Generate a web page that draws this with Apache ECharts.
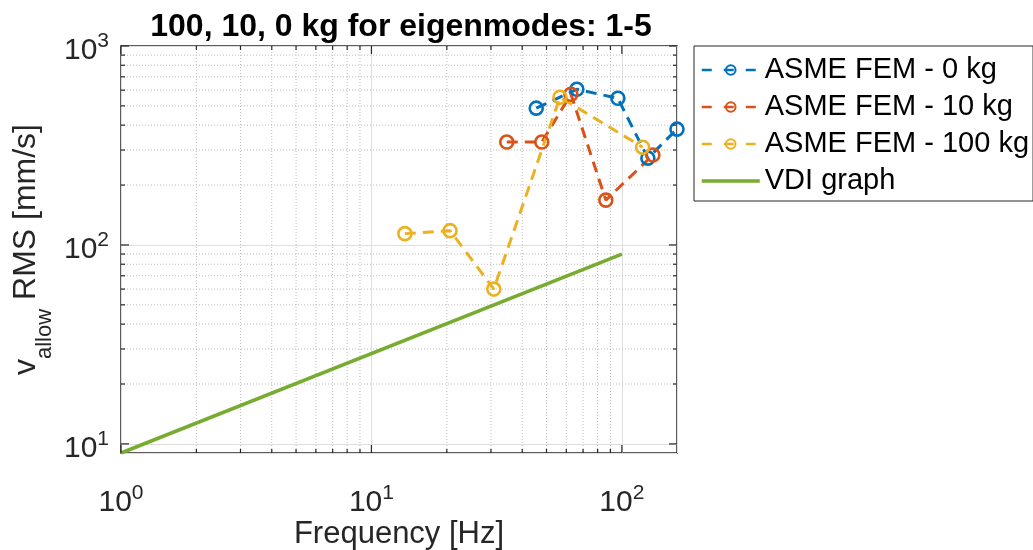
<!DOCTYPE html>
<html>
<head>
<meta charset="utf-8">
<script src="https://cdn.jsdelivr.net/npm/echarts@6/dist/echarts.min.js"></script>
<style>
  html, body { margin: 0; padding: 0; background: #fff; }
  #chart { width: 1033px; height: 550px; }
</style>
</head>
<body>
<div id="chart"></div>
<script>
// values (Hz, mm/s)
const freq0 = [45.5, 66.1, 96.4, 127, 166];
const v0 = [487, 606, 546, 273, 382];
const freq10 = [34.7, 47.9, 62.6, 86.3, 133];
const v10 = [329, 329, 572, 168, 283];
const freq100 = [13.6, 20.6, 30.8, 56.6, 121];
const v100 = [114, 118, 60, 553, 310];
const vdiFreq = [1, 100];
const vdiV = [9, 90];

const xLimits = [1, 166];
const yLimits = [9, 1000];
const xMajor = [1, 10, 100];
const xMinor = [2, 3, 4, 5, 6, 7, 8, 9, 20, 30, 40, 50, 60, 70, 80, 90];
const yMajor = [10, 100, 1000];
const yMinor = [20, 30, 40, 50, 60, 70, 80, 90, 200, 300, 400, 500, 600, 700, 800, 900];

const FONT = 'Liberation Sans';
const AXIS_COLOR = '#262626';
const COLORS = ['#0072BD', '#D95319', '#EDB120', '#77AC30'];
const NAMES = ['ASME FEM - 0 kg', 'ASME FEM - 10 kg', 'ASME FEM - 100 kg', 'VDI graph'];

function isDecade(v) {
  const l = Math.log10(v);
  return Math.abs(l - Math.round(l)) < 1e-6;
}

function powLabel(v) {
  return isDecade(v) ? '{b|10}{s|' + Math.round(Math.log10(v)) + '}' : '';
}

const powRich = {
  b: { fontFamily: FONT, fontSize: 30, color: AXIS_COLOR, padding: [10, 0, 0, 0] },
  s: { fontFamily: FONT, fontSize: 21, color: AXIS_COLOR, padding: [0, 0, 10, 0] }
};

function femSeries(name, xs, ys, color) {
  return {
    name: name,
    type: 'line',
    data: xs.map((x, i) => [x, ys[i]]),
    symbol: 'circle',
    symbolSize: 13,
    clip: false,
    itemStyle: { color: 'rgba(255,255,255,0)', borderColor: color, borderWidth: 2.6 },
    lineStyle: { color: color, width: 3, type: [11, 7] },
    emphasis: { disabled: true },
    z: 3
  };
}

const chart = echarts.init(document.getElementById('chart'));

chart.setOption({
  animation: false,
  title: {
    text: '100, 10, 0 kg for eigenmodes: 1-5',
    left: 396,
    top: 6,
    textAlign: 'center',
    textStyle: { fontFamily: FONT, fontSize: 32, fontWeight: 'bold', color: '#000' }
  },
  grid: {
    left: 121, right: 356, top: 46, bottom: 97,
    outerBoundsMode: 'none',
    containLabel: false,
    show: true, borderColor: AXIS_COLOR, borderWidth: 1.5
  },
  legend: {
    orient: 'vertical',
    left: 694,
    top: 46,
    padding: [9, 4, 5, 6],
    itemGap: 7,
    itemWidth: 58,
    itemHeight: 12,
    borderColor: AXIS_COLOR,
    borderWidth: 1,
    textStyle: { fontFamily: FONT, fontSize: 29, color: '#000', lineHeight: 30 },
    data: [
      { name: NAMES[0], lineStyle: { width: 2.6, type: [10, 12] } },
      { name: NAMES[1], lineStyle: { width: 2.6, type: [10, 12] } },
      { name: NAMES[2], lineStyle: { width: 2.6, type: [10, 12] } },
      { name: NAMES[3], lineStyle: { width: 3.5 }, itemStyle: { color: 'rgba(0,0,0,0)', borderWidth: 0 } }
    ]
  },
  xAxis: {
    type: 'log',
    logBase: 10,
    min: xLimits[0],
    max: xLimits[1],
    name: 'Frequency [Hz]',
    nameLocation: 'middle',
    nameGap: 66,
    nameMoveOverlap: false,
    nameTextStyle: { fontFamily: FONT, fontSize: 31, color: AXIS_COLOR },
    axisLine: { show: false },
    axisTick: { show: false },
    axisLabel: { formatter: powLabel, rich: powRich, margin: 25 },
    splitLine: { show: true, lineStyle: { color: '#dedede', width: 1 } }
  },
  yAxis: {
    type: 'log',
    logBase: 10,
    min: yLimits[0],
    max: yLimits[1],
    name: '{v|v}{sub|allow}{n| RMS [mm/s]}',
    nameLocation: 'middle',
    nameRotate: 90,
    nameGap: 65,
    nameMoveOverlap: false,
    nameTextStyle: {
      rich: {
        v: { fontFamily: FONT, fontSize: 32, color: AXIS_COLOR },
        sub: { fontFamily: FONT, fontSize: 22, color: AXIS_COLOR, padding: [38, 0, 0, 0] },
        n: { fontFamily: FONT, fontSize: 32, color: AXIS_COLOR }
      }
    },
    axisLine: { show: false },
    axisTick: { show: false },
    axisLabel: { formatter: powLabel, rich: powRich, margin: 12 },
    splitLine: { show: true, lineStyle: { color: '#dedede', width: 1 } }
  },
  series: [
    femSeries(NAMES[0], freq0, v0, COLORS[0]),
    femSeries(NAMES[1], freq10, v10, COLORS[1]),
    femSeries(NAMES[2], freq100, v100, COLORS[2]),
    {
      name: NAMES[3],
      type: 'line',
      data: vdiFreq.map((x, i) => [x, vdiV[i]]),
      symbol: 'none',
      itemStyle: { color: COLORS[3] },
      lineStyle: { color: COLORS[3], width: 3.5 },
      emphasis: { disabled: true },
      z: 2
    }
  ]
});

// minor grid and tick marks (log decades 2..9), placed through the axes' scales
function gridAndTicks() {
  const els = [];
  const px = p => chart.convertToPixel({ gridIndex: 0 }, p);
  const [xl, yb] = px([xLimits[0], yLimits[0]]);
  const [xr, yt] = px([xLimits[1], yLimits[1]]);
  const dotted = { stroke: '#bdbdbd', lineWidth: 1, lineDash: [1, 2] };
  const tick = { stroke: AXIS_COLOR, lineWidth: 1.2 };
  const add = (x1, y1, x2, y2, style, z) =>
    els.push({ type: 'line', silent: true, z: z, shape: { x1, y1, x2, y2 }, style: style });

  xMinor.forEach(v => {
    const x = px([v, yLimits[0]])[0];
    add(x, yt, x, yb, dotted, 1);
    add(x, yb, x, yb - 4, tick, 10);
    add(x, yt, x, yt + 4, tick, 10);
  });
  xMajor.forEach(v => {
    const x = px([v, yLimits[0]])[0];
    add(x, yb, x, yb - 8, tick, 10);
    add(x, yt, x, yt + 8, tick, 10);
  });
  yMinor.forEach(v => {
    const y = px([xLimits[0], v])[1];
    add(xl, y, xr, y, dotted, 1);
    add(xl, y, xl + 4, y, tick, 10);
    add(xr, y, xr - 4, y, tick, 10);
  });
  yMajor.forEach(v => {
    const y = px([xLimits[0], v])[1];
    add(xl, y, xl + 8, y, tick, 10);
    add(xr, y, xr - 8, y, tick, 10);
  });
  return els;
}

chart.setOption({ graphic: gridAndTicks() });
</script>
</body>
</html>
